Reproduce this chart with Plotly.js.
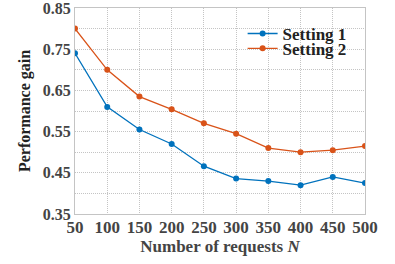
<!DOCTYPE html>
<html><head><meta charset="utf-8">
<script src="https://cdn.plot.ly/plotly-3.0.1.min.js"></script>
<style>html,body{margin:0;padding:0;background:#fff}#c{width:395px;height:264px}</style>
</head><body><div id="c"></div>
<script>
const requests = [50,100,150,200,250,300,350,400,450,500];
const setting1 = [0.74,0.61,0.555,0.52,0.466,0.436,0.43,0.42,0.44,0.425];
const setting2 = [0.80,0.70,0.635,0.604,0.57,0.545,0.51,0.50,0.505,0.515];
const yTicks = [0.35,0.45,0.55,0.65,0.75,0.85];
const seriesNames = ['Setting 1','Setting 2'];
const font = '"Liberation Serif", "Times New Roman", serif';
const traces = [
  {x:requests,y:setting1,name:seriesNames[0],legend:'legend',mode:'lines+markers',line:{color:'#0072BD',width:1.3},marker:{color:'#0072BD',size:6}},
  {x:requests,y:setting2,name:seriesNames[1],legend:'legend2',mode:'lines+markers',line:{color:'#D95319',width:1.3},marker:{color:'#D95319',size:6}}
];
const legFont = {family:font,size:17,color:'#222',weight:'bold'};
const gridCol = '#c4c4c4';
const layout = {
  width:395,height:264,
  margin:{l:75,r:30,t:8,b:50},
  paper_bgcolor:'#fff',plot_bgcolor:'#fff',
  font:{family:font,color:'#333'},
  showlegend:true,
  legend:{x:0.578,y:0.874,xanchor:'left',yanchor:'middle',bgcolor:'rgba(0,0,0,0)',font:legFont,itemwidth:30},
  legend2:{x:0.578,y:0.802,xanchor:'left',yanchor:'middle',bgcolor:'rgba(0,0,0,0)',font:legFont,itemwidth:30},
  xaxis:{range:[50,500],tickvals:requests,ticktext:requests.map(String),
    showgrid:true,gridcolor:gridCol,griddash:'1px,1px',gridwidth:1,
    zeroline:false,showline:true,linecolor:gridCol,mirror:true,
    ticks:'',ticklabelstandoff:-2,tickfont:{family:font,size:17,color:'#444',weight:'bold'},
    title:{text:'Number of requests <i>N</i>',font:{family:font,size:17,color:'#444',weight:'bold'},standoff:2}},
  yaxis:{range:[0.35,0.8500001],tickvals:yTicks,ticktext:yTicks.map(v=>v.toFixed(2)),
    showgrid:true,gridcolor:gridCol,griddash:'1px,1px',
    minor:{dtick:0.05,tick0:0.35,showgrid:true,gridcolor:gridCol,griddash:'1px,1px'},
    zeroline:false,showline:true,linecolor:gridCol,mirror:true,
    ticks:'',ticklabeloverflow:'allow',tickfont:{family:font,size:16,color:'#444',weight:'bold'},
    title:{text:'Performance gain',font:{family:font,size:16,color:'#222',weight:'bold'},standoff:8}}
};
Plotly.newPlot('c',traces,layout,{displayModeBar:false,staticPlot:true});
</script></body></html>
